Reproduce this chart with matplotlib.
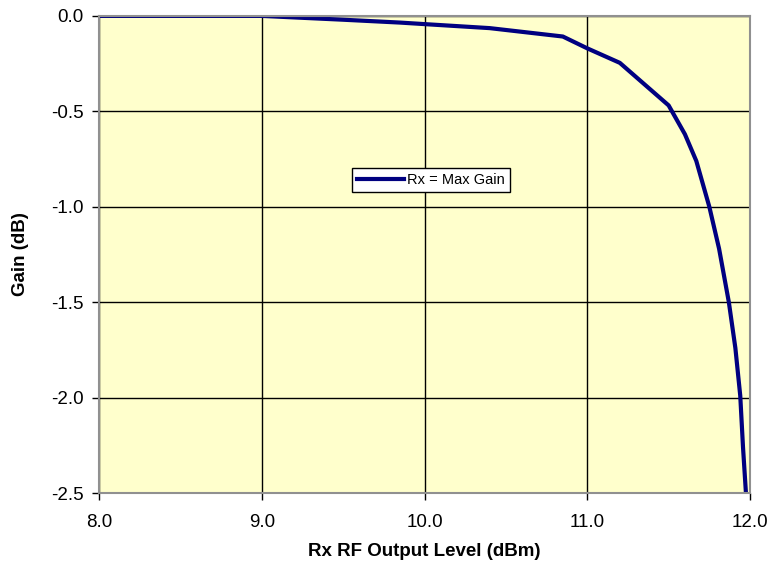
import matplotlib
matplotlib.use("Agg")
import matplotlib.pyplot as plt

# Gain compression vs output level
output_dbm = [8.0, 9.0, 9.5, 9.85, 10.0, 10.4, 10.85, 11.0, 11.2, 11.5, 11.6,
              11.67, 11.75, 11.81, 11.87, 11.91, 11.94, 11.957, 11.975]
gain_db = [0.0, 0.0, -0.02, -0.035, -0.043, -0.064, -0.108, -0.17, -0.246,
           -0.469, -0.62, -0.76, -1.0, -1.22, -1.5, -1.74, -1.99, -2.26, -2.5]

x_ticks = [8.0, 9.0, 10.0, 11.0, 12.0]
y_ticks = [0.0, -0.5, -1.0, -1.5, -2.0, -2.5]

plt.rcParams["font.family"] = ["Liberation Sans", "DejaVu Sans"]

fig = plt.figure(figsize=(7.74, 5.68), dpi=100)
ax = fig.add_axes([0.128, 0.132, 0.841, 0.840])
ax.set_facecolor("#FFFFCC")

ax.plot(output_dbm, gain_db, color="#000080", linewidth=3, label="Rx = Max Gain",
        solid_joinstyle="round")

ax.set_xlim(8.0, 12.0)
ax.set_ylim(-2.5, 0.0)
ax.set_xticks(x_ticks)
ax.set_yticks(y_ticks)
ax.set_xticklabels([f"{v:.1f}" for v in x_ticks], fontsize=13.5)
ax.set_yticklabels([f"{v:.1f}" for v in y_ticks], fontsize=13.5)
ax.tick_params(axis="x", direction="out", length=5, color="black", width=1, pad=10)
ax.tick_params(axis="y", direction="out", length=5, color="black", width=1, pad=6)

ax.grid(True, color="black", linewidth=1)
ax.set_axisbelow(True)
for s in ax.spines.values():
    s.set_color("#909090")
    s.set_linewidth(1.5)

ax.set_xlabel("Rx RF Output Level (dBm)", fontsize=13.5, fontweight="bold", labelpad=9)
ax.set_ylabel("Gain (dB)", fontsize=13.5, fontweight="bold", labelpad=16)

leg = ax.legend(loc="center", bbox_to_anchor=(0.51, 0.656), fontsize=10.5,
                frameon=True, fancybox=False, handlelength=3.2, handletextpad=0.2,
                borderpad=0.35)
leg.get_frame().set_edgecolor("black")
leg.get_frame().set_facecolor("white")
leg.get_frame().set_alpha(1)
leg.get_frame().set_linewidth(1)

fig.savefig("out.png", dpi=100, facecolor="white")
